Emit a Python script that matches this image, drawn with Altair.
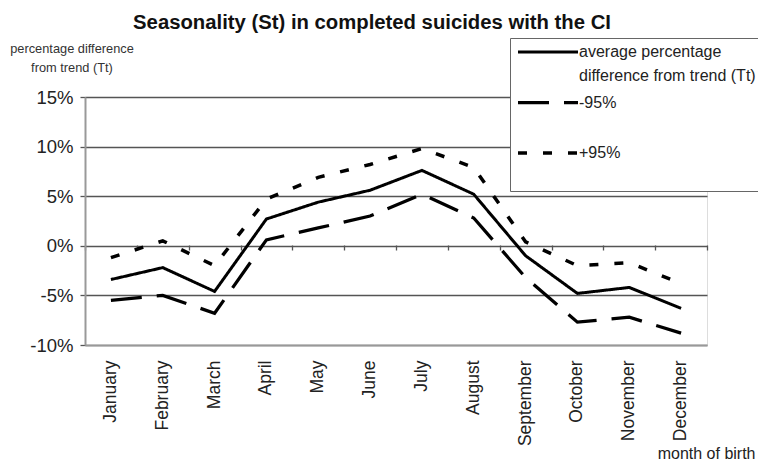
import altair as alt
import pandas as pd

months = ["January", "February", "March", "April", "May", "June", "July",
          "August", "September", "October", "November", "December"]
avg = [-3.4, -2.2, -4.6, 2.7, 4.4, 5.6, 7.6, 5.2, -1.0, -4.8, -4.2, -6.3]
lower = [-5.5, -5.0, -6.8, 0.6, 1.8, 3.0, 5.2, 2.8, -3.2, -7.7, -7.2, -8.8]
upper = [-1.2, 0.5, -2.0, 4.7, 6.9, 8.2, 9.8, 7.9, 0.4, -2.0, -1.7, -3.8]
series_names = ["average percentage difference from trend (Tt)", "-95%", "+95%"]
y_ticks = [-10, -5, 0, 5, 10, 15]

rows = []
for name, vals in zip(series_names, [avg, lower, upper]):
    for m, v in zip(months, vals):
        rows.append({"month": m, "series": name, "value": v})
df = pd.DataFrame(rows)

FONT = "Liberation Sans"

x_scale = alt.Scale(type="band", paddingInner=0, paddingOuter=0)
y_scale = alt.Scale(domain=[-10, 15], nice=False)

legend_label_expr = (
    "datum.label == 'average percentage difference from trend (Tt)' "
    "? ['average percentage', 'difference from trend (Tt)'] "
    ": (datum.label == '+95%' ? ['+95%', ' '] : datum.label)"
)

lines = alt.Chart(df).mark_line(color="black", strokeCap="butt").encode(
    x=alt.X("month:N", sort=months, scale=x_scale, bandPosition=0.5,
            axis=alt.Axis(orient="bottom", domain=True, domainColor="#999",
                          domainWidth=2, ticks=False, tickSize=0, grid=False,
                          labelAngle=-90, labelFont=FONT, labelFontSize=17.5,
                          labelColor="#222", labelPadding=15,
                          title="month of birth", titleFont=FONT,
                          titleFontSize=16, titleFontWeight="normal",
                          titleColor="#222", titleX=670, titleY=113,
                          titleAlign="right", titleBaseline="alphabetic")),
    y=alt.Y("value:Q", scale=y_scale,
            axis=alt.Axis(values=y_ticks, labelExpr="datum.value + '%'",
                          domain=True, domainColor="#999", domainWidth=2,
                          ticks=True, tickSize=5, tickColor="#555", tickWidth=1.3,
                          grid=True,
                          gridColor={"condition": {"test": "datum.value === -10", "value": "#999"}, "value": "#555"},
                          gridWidth=1.3,
                          labelFont=FONT, labelFontSize=18.5, labelColor="#222",
                          labelPadding=7,
                          title=["percentage difference", "from trend (Tt)"],
                          titleFont=FONT, titleFontSize=12.8, titleFontWeight="normal",
                          titleColor="#333", titleAngle=0, titleX=-13.5,
                          titleY=-48.5, titleAlign="center",
                          titleBaseline="middle", titleLineHeight=18.5)),
    strokeDash=alt.StrokeDash(
        "series:N", sort=series_names,
        scale=alt.Scale(domain=series_names, range=[[1, 0], [31, 15], [9, 16]]),
        legend=alt.Legend(orient="none", legendX=425, legendY=-59, title=None,
                          symbolType="M-5,0H5", symbolSize=144, symbolOffset=24,
                          symbolStrokeWidth=3.5, symbolStrokeColor="black",
                          labelFont=FONT, labelFontSize=16, labelColor="#222",
                          labelLimit=400, labelOffset=23,
                          labelExpr=legend_label_expr,
                          strokeColor="#666", fillColor="white",
                          padding=6, rowPadding=10.5, gridAlign="all")),
    strokeWidth=alt.StrokeWidth(
        "series:N", scale=alt.Scale(domain=series_names, range=[3, 3.5, 3.5]),
        legend=None),
)

ticks0 = alt.Chart(df).mark_point(opacity=0).encode(
    x=alt.X("month:N", sort=months, scale=x_scale,
            axis=alt.Axis(orient="bottom", offset=-100, domain=False,
                          labels=False, grid=False, ticks=True, tickSize=5,
                          tickColor="#555", tickWidth=1.3, tickBand="extent",
                          title=None)),
    y=alt.Y("value:Q", scale=y_scale),
)

chart = alt.layer(ticks0, lines).resolve_axis(x="independent").properties(
    width=622, height=248,
    autosize=alt.AutoSizeParams(type="none"),
    padding={"left": 77, "top": 89, "right": 51, "bottom": 118},
    title=alt.TitleParams("Seasonality (St) in completed suicides with the CI",
                          font=FONT, fontSize=20.3, fontWeight="bold",
                          color="#111", anchor="middle", frame="group",
                          dx=-24, offset=4),
).configure_view(stroke=None).configure(
    style={"guide-label": {"lineHeight": 24}}
)

chart.save("out.html", embed_options={"renderer": "svg", "actions": False})
